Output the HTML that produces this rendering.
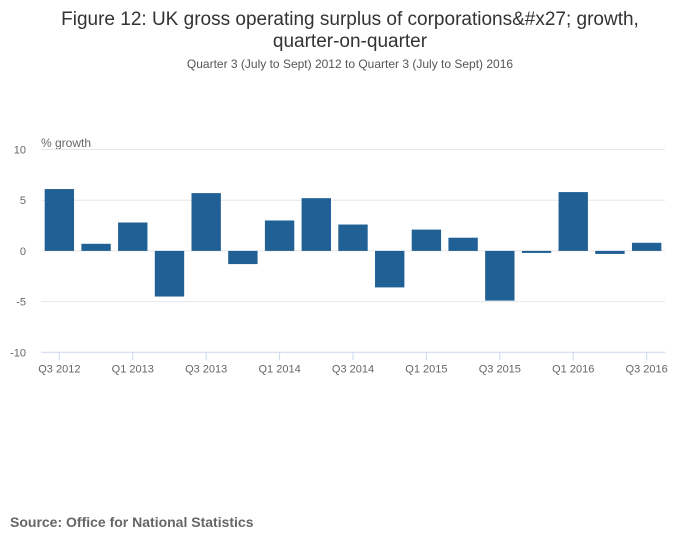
<!DOCTYPE html>
<html><head><meta charset="utf-8"><style>
body{margin:0;background:#fff;font-family:"Liberation Sans",sans-serif;}
</style></head><body>
<svg width="700" height="549" style="display:block">
<text x="350" y="25" text-anchor="middle" font-size="19" fill="#333">Figure 12: UK gross operating surplus of corporations&amp;#x27; growth,</text>
<text x="350" y="47" text-anchor="middle" font-size="19" fill="#333">quarter-on-quarter</text>
<text x="350" y="68" text-anchor="middle" font-size="12" fill="#555">Quarter 3 (July to Sept) 2012 to Quarter 3 (July to Sept) 2016</text>
<text x="41" y="147" font-size="12" fill="#666">% growth</text>
<g id="grid"></g><g id="bars"></g><g id="xaxis"></g>
<text x="10" y="527" font-size="14" font-weight="bold" fill="#666">Source: Office for National Statistics</text>
</svg>
<script>
const categories=["Q3 2012","Q4 2012","Q1 2013","Q2 2013","Q3 2013","Q4 2013","Q1 2014","Q2 2014","Q3 2014","Q4 2014","Q1 2015","Q2 2015","Q3 2015","Q4 2015","Q1 2016","Q2 2016","Q3 2016"];
const values=[6.1,0.7,2.8,-4.5,5.7,-1.3,3.0,5.2,2.6,-3.6,2.1,1.3,-4.9,-0.2,5.8,-0.3,0.8];
const yTicks=[10,5,0,-5,-10];
const xLabels=["Q3 2012","Q1 2013","Q3 2013","Q1 2014","Q3 2014","Q1 2015","Q3 2015","Q1 2016","Q3 2016"];
const NS="http://www.w3.org/2000/svg";
const L=41,R=665,T=149.5,B=352.3,ymin=-10,ymax=10;
const y=v=>B-(v-ymin)/(ymax-ymin)*(B-T);
const step=(R-L)/categories.length;
const xc=i=>L+step*(i+0.5);
function mk(t,a,p){const e=document.createElementNS(NS,t);for(const k in a)e.setAttribute(k,a[k]);p.appendChild(e);return e;}
const g=document.getElementById('grid'),b=document.getElementById('bars'),xa=document.getElementById('xaxis');
yTicks.forEach(v=>{
 const l=mk('line',{x1:L,x2:R,y1:y(v),y2:y(v),stroke:v===-10?'#ccd6eb':'#e6e6e6','stroke-width':1},g);
 
 
 const t=mk('text',{x:26,y:y(v)+4,'text-anchor':'end','font-size':11,fill:'#666'},g);
 t.textContent=v;
 
 
});
values.forEach((v,i)=>{
 const w=step*0.8;
 const r=mk('rect',{x:xc(i)-w/2,y:Math.min(y(v),y(0)),width:w,height:Math.abs(y(v)-y(0)),fill:'#206095'},b);
 
 
});
categories.forEach((c,i)=>{
 if(!xLabels.includes(c))return;
 const l=mk('line',{x1:xc(i),x2:xc(i),y1:B,y2:B+8,stroke:'#ccd6eb'},xa);
 
 
 const t=mk('text',{x:xc(i),y:B+20,'text-anchor':'middle','font-size':11,fill:'#666'},xa);
 t.textContent=c;
 
 
});
</script>
</body></html>
